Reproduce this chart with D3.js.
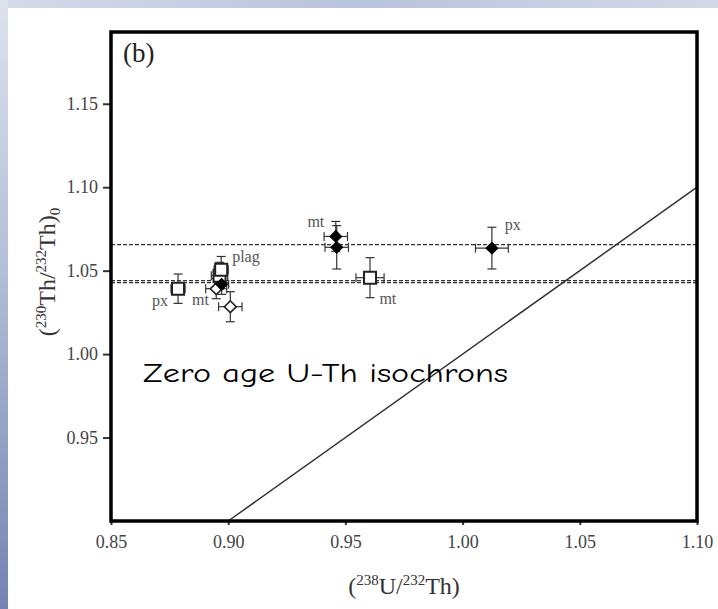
<!DOCTYPE html>
<html><head><meta charset="utf-8">
<script src="https://cdn.jsdelivr.net/npm/d3@7/dist/d3.min.js"></script>
<style>
html,body{margin:0;padding:0;background:#fff;}
svg{display:block;}
</style></head>
<body>
<script>
// ---- data ----
const xTicks = [0.85, 0.90, 0.95, 1.00, 1.05, 1.10];
const yTicks = [0.95, 1.00, 1.05, 1.10, 1.15];
const xDomain = [0.85, 1.10];
const yDomain = [0.90, 1.193];

// open squares: [x, y, xErr, yErr]
const openSquares = [
  [0.8786, 1.0392, 0.0030, 0.0088],
  [0.8963, 1.0470, 0.0035, 0.0080],
  [0.8970, 1.0505, 0.0030, 0.0080],
  [0.9605, 1.0458, 0.0060, 0.0120]
];
// open diamonds
const openDiamonds = [
  [0.8949, 1.0392, 0.0045, 0.0060],
  [0.9009, 1.0284, 0.0050, 0.0090]
];
// filled diamonds
const filledDiamonds = [
  [0.8972, 1.0418, 0.0030, 0.0060],
  [0.9459, 1.0705, 0.0050, 0.0090],
  [0.9463, 1.0640, 0.0050, 0.0130],
  [1.0125, 1.0635, 0.0070, 0.0125]
];
// reference (dashed) lines
const dashedLevels = [1.0656, 1.0428, 1.0440];
// equiline (zero-age isochron)
const equiline = [[0.90, 0.90], [1.10, 1.10]];
// point labels: [text, x, y]
const pointLabels = [
  ["px", 0.8675, 1.0287],
  ["mt", 0.8846, 1.0293],
  ["plag", 0.9017, 1.0550],
  ["mt", 0.9338, 1.0760],
  ["mt", 0.9645, 1.0300],
  ["px", 1.0180, 1.0743]
];
const panelLabel = "(b)";
const annotation = "Zero age U-Th isochrons";

// ---- drawing ----
(function () {
const W = 718, H = 609;
const svg = d3.select("body").append("svg").attr("width", W).attr("height", H);
const defs = svg.append("defs");
const gl = defs.append("linearGradient").attr("id","leftg").attr("x1",0).attr("y1",0).attr("x2",0).attr("y2",1);
gl.append("stop").attr("offset","0%").attr("stop-color","#dde2ec");
gl.append("stop").attr("offset","45%").attr("stop-color","#b3bdd6");
gl.append("stop").attr("offset","100%").attr("stop-color","#7483b3");
const gt = defs.append("linearGradient").attr("id","topg").attr("x1",0).attr("y1",0).attr("x2",1).attr("y2",0);
gt.append("stop").attr("offset","0%").attr("stop-color","#d6dbe8");
gt.append("stop").attr("offset","50%").attr("stop-color","#b9c3dc");
gt.append("stop").attr("offset","100%").attr("stop-color","#d4d9e6");

svg.append("rect").attr("width",W).attr("height",H).attr("fill","#fff");
svg.append("rect").attr("x",0).attr("y",0).attr("width",W).attr("height",8).attr("fill","url(#topg)");
svg.append("rect").attr("x",0).attr("y",0).attr("width",8).attr("height",H).attr("fill","url(#leftg)");

const pl = 111, pr = 697, pt = 32, pb = 521;
const x = d3.scaleLinear().domain(xDomain).range([pl, pr]);
const y = d3.scaleLinear().domain(yDomain).range([pb, pt]);

const plot = svg.append("g");

// dashed lines
plot.selectAll("line.dash").data(dashedLevels).join("line")
  .attr("x1", pl).attr("x2", pr)
  .attr("y1", d => y(d)).attr("y2", d => y(d))
  .attr("stroke", "#333").attr("stroke-width", 1.3)
  .attr("stroke-dasharray", "4,2");

// equiline
plot.append("line")
  .attr("x1", x(equiline[0][0])).attr("y1", y(equiline[0][1]))
  .attr("x2", x(equiline[1][0])).attr("y2", y(equiline[1][1]))
  .attr("stroke", "#333").attr("stroke-width", 1.5);

// error bars
function errorBars(data) {
  const g = plot.append("g").attr("stroke", "#333").attr("stroke-width", 1.2);
  data.forEach(d => {
    const [cx, cy, ex, ey] = d;
    g.append("line").attr("x1", x(cx)).attr("x2", x(cx)).attr("y1", y(cy - ey)).attr("y2", y(cy + ey));
    g.append("line").attr("x1", x(cx) - 4.5).attr("x2", x(cx) + 4.5).attr("y1", y(cy - ey)).attr("y2", y(cy - ey));
    g.append("line").attr("x1", x(cx) - 4.5).attr("x2", x(cx) + 4.5).attr("y1", y(cy + ey)).attr("y2", y(cy + ey));
    g.append("line").attr("x1", x(cx - ex)).attr("x2", x(cx + ex)).attr("y1", y(cy)).attr("y2", y(cy));
    g.append("line").attr("x1", x(cx - ex)).attr("x2", x(cx - ex)).attr("y1", y(cy) - 4.5).attr("y2", y(cy) + 4.5);
    g.append("line").attr("x1", x(cx + ex)).attr("x2", x(cx + ex)).attr("y1", y(cy) - 4.5).attr("y2", y(cy) + 4.5);
  });
}
errorBars(openSquares);
errorBars(openDiamonds);
errorBars(filledDiamonds);

const sqSym = d3.symbol().type(d3.symbolSquare).size(144);
const diSym = d3.symbol().type(d3.symbolSquare).size(70);

plot.selectAll("path.sq").data(openSquares).join("path")
  .attr("d", sqSym).attr("transform", d => `translate(${x(d[0])},${y(d[1])})`)
  .attr("fill", "#fff").attr("stroke", "#222").attr("stroke-width", 2);
plot.selectAll("path.od").data(openDiamonds).join("path")
  .attr("d", diSym).attr("transform", d => `translate(${x(d[0])},${y(d[1])}) rotate(45)`)
  .attr("fill", "#fff").attr("stroke", "#222").attr("stroke-width", 1.6);
plot.selectAll("path.fd").data(filledDiamonds).join("path")
  .attr("d", diSym).attr("transform", d => `translate(${x(d[0])},${y(d[1])}) rotate(45)`)
  .attr("fill", "#000").attr("stroke", "#000").attr("stroke-width", 1);

const serif = "'Liberation Serif','Times New Roman',serif";

// point labels
plot.selectAll("text.pl").data(pointLabels).join("text")
  .attr("x", d => x(d[1])).attr("y", d => y(d[2]))
  .attr("font-family", serif)
  .attr("font-size", 16).attr("fill", "#555")
  .text(d => d[0]);

// axes
const xAxis = svg.append("g").attr("transform", `translate(0,${pb})`)
  .call(d3.axisBottom(x).tickValues(xTicks).tickFormat(d3.format(".2f")).tickSize(4).tickPadding(10));
const yAxis = svg.append("g").attr("transform", `translate(${pl},0)`)
  .call(d3.axisLeft(y).tickValues(yTicks).tickFormat(d3.format(".2f")).tickSize(8).tickPadding(5));
[xAxis, yAxis].forEach(a => {
  a.select(".domain").remove();
  a.selectAll(".tick line").attr("stroke", "#333").attr("stroke-width", 2);
  a.selectAll(".tick text").attr("font-family", serif)
    .attr("font-size", 18).attr("fill", "#444");
});

// frame
svg.append("rect").attr("x", pl).attr("y", pt).attr("width", pr - pl).attr("height", pb - pt)
  .attr("fill", "none").attr("stroke", "#000").attr("stroke-width", 3.5);

// panel label
svg.append("text").attr("x", 123).attr("y", 62)
  .attr("font-family", serif)
  .attr("font-size", 27).attr("fill", "#222").text(panelLabel);

// annotation
svg.append("text").attr("x", 143).attr("y", 382)
  .attr("font-family", "'Comic Sans MS','Comic Neue','DejaVu Sans',sans-serif")
  .attr("font-size", 27).attr("fill", "#000")
  .attr("textLength", 365).attr("lengthAdjust", "spacingAndGlyphs")
  .text(annotation);

// axis titles
const xt = svg.append("text").attr("x", (pl + pr) / 2).attr("y", 594)
  .attr("text-anchor", "middle").attr("font-family", serif).attr("font-size", 24).attr("fill", "#333");
xt.append("tspan").text("(");
xt.append("tspan").attr("font-size", 15).attr("dy", -9).text("238");
xt.append("tspan").attr("dy", 9).text("U/");
xt.append("tspan").attr("font-size", 15).attr("dy", -9).text("232");
xt.append("tspan").attr("dy", 9).text("Th)");

const yt = svg.append("text").attr("transform", "translate(55,272) rotate(-90)")
  .attr("text-anchor", "middle").attr("font-family", serif).attr("font-size", 24).attr("fill", "#333");
yt.append("tspan").text("(");
yt.append("tspan").attr("font-size", 15).attr("dy", -9).text("230");
yt.append("tspan").attr("dy", 9).text("Th/");
yt.append("tspan").attr("font-size", 15).attr("dy", -9).text("232");
yt.append("tspan").attr("dy", 9).text("Th)");
yt.append("tspan").attr("font-size", 15).attr("dy", 5).text("0");
})();
</script>
</body></html>
